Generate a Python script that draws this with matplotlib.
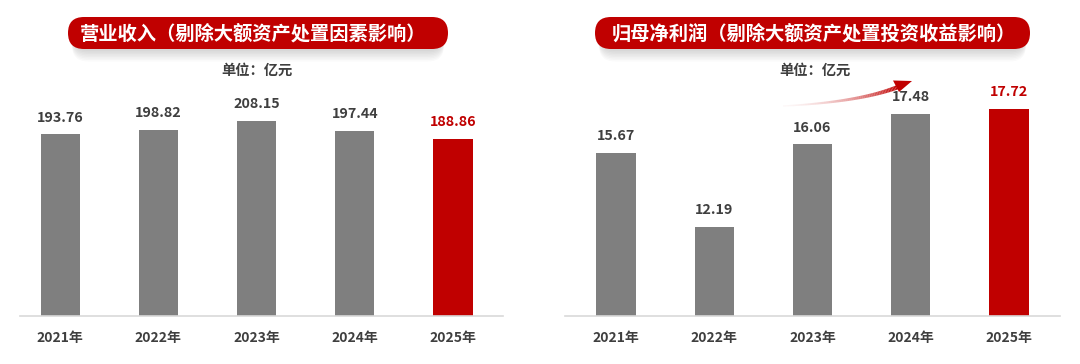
import numpy as np
import matplotlib
matplotlib.use("Agg")
import matplotlib.pyplot as plt
from matplotlib.patches import FancyBboxPatch, Polygon

plt.rcParams['font.family'] = ['Noto Sans CJK SC', 'DejaVu Sans']

years = ['2021年', '2022年', '2023年', '2024年', '2025年']
revenue = [193.76, 198.82, 208.15, 197.44, 188.86]
profit = [15.67, 12.19, 16.06, 17.48, 17.72]
title_left = '营业收入（剔除大额资产处置因素影响）'
title_right = '归母净利润（剔除大额资产处置投资收益影响）'
unit = '单位：亿元'

GRAY = '#7F7F7F'
RED = '#C00000'
TXT = '#3F3F3F'

W, H = 1080, 364
fig = plt.figure(figsize=(W / 100, H / 100), dpi=100)


def px_axes(x0, x1, y_top, y_bot):
    return fig.add_axes([x0 / W, 1 - y_bot / H, (x1 - x0) / W, (y_bot - y_top) / H])


def bar_panel(ax, vals, ylim, xlim):
    x = np.arange(len(vals))
    colors = [GRAY] * (len(vals) - 1) + [RED]
    ax.bar(x, vals, width=0.4, color=colors, zorder=2)
    ax.set_ylim(*ylim)
    ax.set_xlim(*xlim)
    for i, v in enumerate(vals):
        ax.annotate(f'{v:.2f}', (i, v), xytext=(0, 7), textcoords='offset points',
                    ha='center', va='bottom', fontsize=10.3, fontweight='bold',
                    color=RED if i == len(vals) - 1 else TXT)
    for s in ['top', 'right', 'left']:
        ax.spines[s].set_visible(False)
    ax.spines['bottom'].set_color('#D9D9D9')
    ax.spines['bottom'].set_linewidth(1.2)
    ax.set_yticks([])
    ax.set_xticks(x)
    ax.set_xticklabels(years, fontsize=10, fontweight='bold', color=TXT)
    ax.tick_params(axis='x', length=0, pad=11)
    ax.patch.set_alpha(0)


ax1 = px_axes(20, 503, 100, 316)
bar_panel(ax1, revenue, (0, 216 / 0.937), (-0.41, 4.51))

ax2 = px_axes(565, 1060, 100, 316)
bar_panel(ax2, profit, (8, 8 + 216 / 21.3), (-0.52, 4.52))

# overlay in pixel coords
ov = fig.add_axes([0, 0, 1, 1], zorder=5)
ov.set_xlim(0, W)
ov.set_ylim(H, 0)
ov.axis('off')
ov.patch.set_alpha(0)


def pill(x0, x1, y0, y1, text, tx):
    h = y1 - y0
    for k in range(8):
        off = 2 + k * 1.5
        ov.add_patch(FancyBboxPatch((x0 + 4, y0 + off), x1 - x0 - 8, h,
                                    boxstyle=f'round,pad=0,rounding_size={h / 2}',
                                    fc='#000000', ec='none', alpha=0.018, zorder=1))
    ov.add_patch(FancyBboxPatch((x0, y0), x1 - x0, h,
                                boxstyle=f'round,pad=0,rounding_size={h / 2}',
                                fc=RED, ec='none', zorder=2))
    ov.text(tx, (y0 + y1) / 2 + 1, text, ha='center', va='center',
            fontsize=13.9, fontweight='bold', color='white', zorder=3)


pill(68, 448, 17, 49, title_left, 253)
pill(595, 1030, 17, 49, title_right, 814)

ov.text(257, 71, unit, ha='center', va='center', fontsize=10.3, fontweight='bold', color=TXT)
ov.text(815, 71, unit, ha='center', va='center', fontsize=10.3, fontweight='bold', color=TXT)

# gradient arrow
p0, pc, p1 = np.array([783, 106]), np.array([860, 102]), np.array([898, 87])
t = np.linspace(0, 1, 60)
pts = ((1 - t) ** 2)[:, None] * p0 + (2 * (1 - t) * t)[:, None] * pc + (t ** 2)[:, None] * p1
for i in range(len(pts) - 1):
    a = 0.03 + 0.97 * (i / (len(pts) - 2)) ** 1.5
    ov.plot(pts[i:i + 2, 0], pts[i:i + 2, 1], color=RED, alpha=a,
            lw=1.0 + 2.2 * i / len(pts), solid_capstyle='butt', zorder=3)
ov.add_patch(Polygon([[912, 81], [893, 80.5], [899, 92]], closed=True, fc=RED, ec='none', zorder=4))

fig.savefig('out.png', dpi=100)
